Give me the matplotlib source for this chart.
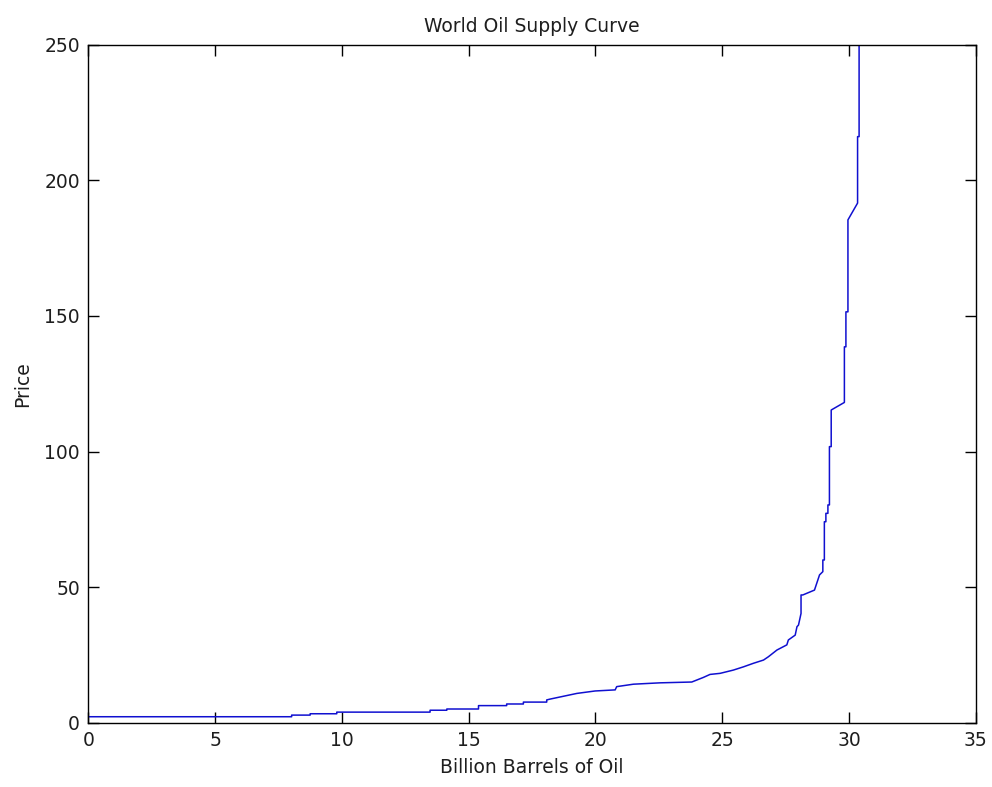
import matplotlib
matplotlib.use("Agg")
import matplotlib.pyplot as plt

# Cumulative supply (billion barrels) and price
supply = [0, 8.02, 8.02, 8.75, 8.75, 9.8, 9.8, 13.48, 13.48, 14.14, 14.14,
          15.39, 15.39, 16.5, 16.5, 17.16, 17.16, 18.08, 18.08, 18.21,
          19.27, 19.99, 20.78, 20.84, 21.50, 22.55, 23.80, 24.26, 24.52,
          24.92, 25.44, 25.84, 26.23, 26.63, 26.82, 27.16, 27.55, 27.61,
          27.88, 27.95, 28.01, 28.11, 28.11, 28.18, 28.64, 28.84, 28.97,
          28.97, 29.03, 29.03, 29.09, 29.09, 29.17, 29.17, 29.23, 29.23,
          29.30, 29.30, 29.82, 29.82, 29.88, 29.88, 29.96, 29.96, 30.34,
          30.34, 30.40, 30.40]
price = [2.2, 2.2, 2.8, 2.8, 3.3, 3.3, 3.9, 3.9, 4.6, 4.6, 5.05,
         5.05, 6.3, 6.3, 6.9, 6.9, 7.6, 7.6, 8.4, 8.7,
         10.8, 11.7, 12.1, 13.3, 14.2, 14.7, 15.0, 16.7, 17.8,
         18.2, 19.4, 20.6, 21.9, 23.1, 24.3, 26.8, 28.7, 30.5,
         32.3, 35.4, 36.0, 40.3, 47.1, 47.1, 48.9, 54.5, 55.7,
         60.0, 60.0, 74.1, 74.1, 77.2, 77.2, 80.3, 80.3, 101.8,
         101.8, 115.3, 118.1, 138.6, 138.6, 151.5, 151.5, 185.4, 191.6,
         216.1, 216.1, 280.0]

xticks = [0, 5, 10, 15, 20, 25, 30, 35]
yticks = [0, 50, 100, 150, 200, 250]

plt.rcParams['font.family'] = ['DejaVu Sans']
txt = '#1e1e1e'
fs = 13.5

fig = plt.figure(figsize=(9.92, 7.87), dpi=100)
ax = fig.add_axes([0.089, 0.0817, 0.8946, 0.8615])
ax.plot(supply, price, color='#1010d0', linewidth=1.1)
ax.set_xlim(0, 35)
ax.set_ylim(0, 250)
ax.set_xticks(xticks)
ax.set_yticks(yticks)
ax.tick_params(direction='in', length=8, width=1, top=True, right=True,
               labelsize=fs, labelcolor=txt, color='black', pad=6)
for s in ax.spines.values():
    s.set_linewidth(1)
    s.set_color('black')
ax.set_title('World Oil Supply Curve', fontsize=fs, color=txt, pad=9)
ax.set_xlabel('Billion Barrels of Oil', fontsize=fs, color=txt, labelpad=6)
ax.set_ylabel('Price', fontsize=fs, color=txt, labelpad=9)

fig.savefig('out.png', dpi=100)
